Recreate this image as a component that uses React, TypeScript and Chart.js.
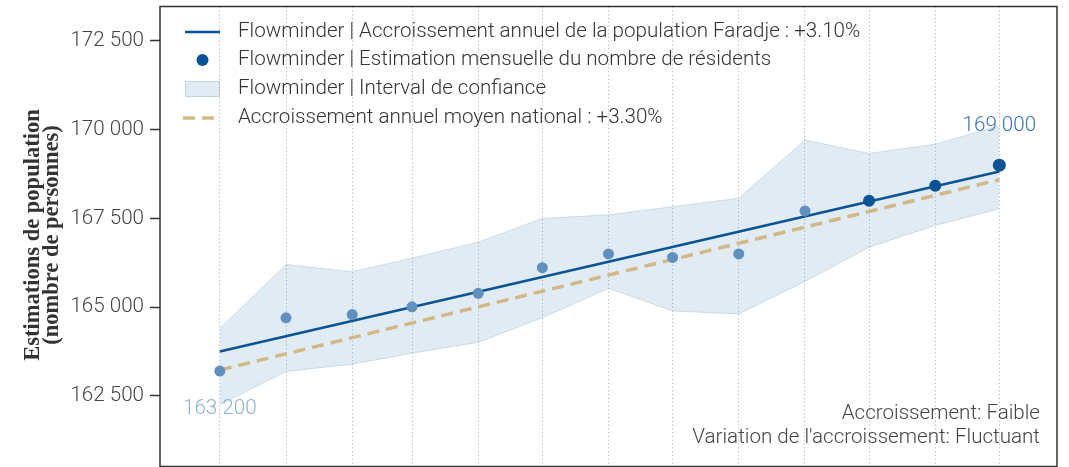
import React, { useEffect, useRef } from 'react';
import { Chart, registerables } from 'chart.js';

Chart.register(...registerables);

// ---- data ----
const months = [
  '2022-12-01', '2023-01-01', '2023-02-01', '2023-03-01', '2023-04-01', '2023-05-01', '2023-06-01',
  '2023-07-01', '2023-08-01', '2023-09-01', '2023-10-01', '2023-11-01', '2023-12-01',
];
const monthlyEstimates = [163200, 164700, 164790, 165010, 165390, 166110, 166500, 166400, 166500, 167710, 168000, 168420, 169000];
const ciUpper = [164400, 166200, 166000, 166380, 166830, 167500, 167600, 167830, 168070, 169710, 169330, 169590, 170110];
const ciLower = [162250, 163190, 163390, 163700, 164010, 164700, 165530, 164890, 164810, 165720, 166690, 167300, 167770];
const trendEnds = [163750, 168820];
const nationalEnds = [163230, 168590];
const yTicks = [162500, 165000, 167500, 170000, 172500];
const legendLabels = [
  'Flowminder | Accroissement annuel de la population Faradje : +3.10%',
  'Flowminder | Estimation mensuelle du nombre de résidents',
  'Flowminder | Interval de confiance',
  'Accroissement annuel moyen national : +3.30%',
];
const axisTitle = ['Estimations de population', '(nombre de personnes)'];
const notes = ['Accroissement: Faible', "Variation de l'accroissement: Fluctuant"];
const RECENT_COUNT = 3;

// ---- helpers ----
const DAY = 86400000;
const t0 = Date.parse(months[0]);
const xs = months.map((m) => Math.round((Date.parse(m) - t0) / DAY));
const fmt = (v: number) => {
  const s = Math.round(v).toString();
  return s.replace(/\B(?=(\d{3})+(?!\d))/g, ' ');
};

const DARK = '#0c5396';
const LIGHT = '#5f90be';
const TAN = '#d2b887';
const BAND = 'rgba(70,130,180,0.16)';
const BAND_EDGE = 'rgba(70,130,180,0.22)';
const FONT = 'Roboto';
const TEXT_PX = 20.6;
const CANVAS_H = 473;

const overlay = {
  id: 'overlay',
  afterDatasetsDraw(chart: any) {
    const { ctx, chartArea, scales } = chart;
    const x = scales.x;
    const y = scales.y;
    ctx.save();
    // data labels
    ctx.font = `300 ${TEXT_PX}px ${FONT}`;
    ctx.textAlign = 'center';
    ctx.textBaseline = 'middle';
    ctx.fillStyle = '#8db1d2';
    ctx.fillText(fmt(monthlyEstimates[0]), x.getPixelForValue(xs[0]), y.getPixelForValue(monthlyEstimates[0]) + 38);
    const li = monthlyEstimates.length - 1;
    ctx.fillStyle = '#3b74ae';
    ctx.fillText(fmt(monthlyEstimates[li]), x.getPixelForValue(xs[li]), y.getPixelForValue(monthlyEstimates[li]) - 39);

    // legend
    const lx0 = chartArea.left + 25;
    const lx1 = chartArea.left + 60;
    const rows = [32, 60, 89, 118];
    ctx.lineCap = 'butt';
    ctx.strokeStyle = DARK;
    ctx.lineWidth = 2.5;
    ctx.beginPath();
    ctx.moveTo(lx0, rows[0]);
    ctx.lineTo(lx1, rows[0]);
    ctx.stroke();
    ctx.fillStyle = DARK;
    ctx.beginPath();
    ctx.arc((lx0 + lx1) / 2, rows[1], 6, 0, Math.PI * 2);
    ctx.fill();
    ctx.fillStyle = BAND;
    ctx.fillRect(lx0, rows[2] - 8, lx1 - lx0, 16);
    ctx.strokeStyle = BAND_EDGE;
    ctx.lineWidth = 1;
    ctx.strokeRect(lx0 + 0.5, rows[2] - 7.5, lx1 - lx0 - 1, 15);
    ctx.strokeStyle = TAN;
    ctx.lineWidth = 3.5;
    ctx.setLineDash([12, 7]);
    ctx.beginPath();
    ctx.moveTo(lx0 - 2, rows[3]);
    ctx.lineTo(lx1, rows[3]);
    ctx.stroke();
    ctx.setLineDash([]);

    ctx.font = `300 ${TEXT_PX}px ${FONT}`;
    ctx.textAlign = 'left';
    ctx.fillStyle = '#333';
    legendLabels.forEach((l, i) => ctx.fillText(l, chartArea.left + 78, rows[i]));

    // notes
    ctx.textAlign = 'right';
    ctx.fillStyle = '#444';
    ctx.fillText(notes[0], chartArea.right - 17, 414);
    ctx.fillText(notes[1], chartArea.right - 17, 438);
    ctx.restore();
  },
  afterDraw(chart: any) {
    const { ctx, chartArea } = chart;
    ctx.save();
    ctx.strokeStyle = '#333';
    ctx.lineWidth = 1.5;
    ctx.strokeRect(chartArea.left, chartArea.top, chartArea.right - chartArea.left, chartArea.bottom - chartArea.top);
    // y-axis title
    ctx.translate(42.5, 235);
    ctx.rotate(-Math.PI / 2);
    ctx.font = `bold 22.5px "Liberation Serif", serif`;
    ctx.fillStyle = '#333';
    ctx.textAlign = 'center';
    ctx.textBaseline = 'middle';
    ctx.fillText(axisTitle[0], 0, -9.5);
    ctx.fillText(axisTitle[1], 0, 9.5);
    ctx.restore();
  },
};

export default function App() {
  const ref = useRef<HTMLCanvasElement>(null);
  useEffect(() => {
    if (!ref.current) return;
    const n = monthlyEstimates.length;
    const pointColors = monthlyEstimates.map((_, i) => (i >= n - RECENT_COUNT ? DARK : LIGHT));
    const pointRadius = monthlyEstimates.map((_, i) => (i === n - 1 ? 6.5 : i >= n - RECENT_COUNT ? 6 : 5.5));
    const chart = new Chart(ref.current, {
      type: 'line',
      data: {
        datasets: [
          {
            label: legendLabels[1],
            data: xs.map((x, i) => ({ x, y: monthlyEstimates[i] })),
            showLine: false,
            pointRadius,
            pointBackgroundColor: pointColors,
            pointBorderWidth: 0,
            borderColor: 'transparent',
            order: 0,
          },
          {
            label: legendLabels[0],
            data: [
              { x: xs[0], y: trendEnds[0] },
              { x: xs[xs.length - 1], y: trendEnds[1] },
            ],
            borderColor: DARK,
            borderWidth: 2.5,
            pointRadius: 0,
            order: 1,
          },
          {
            label: legendLabels[3],
            data: [
              { x: xs[0], y: nationalEnds[0] },
              { x: xs[xs.length - 1], y: nationalEnds[1] },
            ],
            borderColor: TAN,
            borderWidth: 3.5,
            borderDash: [12, 7],
            pointRadius: 0,
            order: 2,
          },
          {
            label: 'lower',
            data: xs.map((x, i) => ({ x, y: ciLower[i] })),
            borderColor: BAND_EDGE,
            borderWidth: 1,
            pointRadius: 0,
            fill: false,
            order: 4,
          },
          {
            label: legendLabels[2],
            data: xs.map((x, i) => ({ x, y: ciUpper[i] })),
            borderColor: BAND_EDGE,
            borderWidth: 1,
            pointRadius: 0,
            backgroundColor: BAND,
            fill: '-1',
            order: 3,
          },
        ],
      },
      options: {
        animation: false,
        responsive: false,
        devicePixelRatio: 1,
        layout: { padding: { top: 5, right: 12, bottom: 0, left: 0 } },
        plugins: { legend: { display: false }, tooltip: { enabled: false } },
        scales: {
          x: {
            type: 'linear',
            min: -28,
            max: xs[xs.length - 1] + 27,
            afterBuildTicks: (axis: any) => {
              axis.ticks = xs.map((v) => ({ value: v }));
            },
            afterFit: (axis: any) => {
              axis.height = 2;
              axis.paddingLeft = 0;
              axis.paddingRight = 0;
            },
            ticks: { display: false },
            grid: { color: '#b8b8b8', lineWidth: 1, drawTicks: false },
            border: { display: false, dash: [1.2, 2.6] },
          },
          y: {
            type: 'linear',
            min: 160510,
            max: 173470,
            afterBuildTicks: (axis: any) => {
              axis.ticks = yTicks.map((v) => ({ value: v }));
            },
            afterFit: (axis: any) => {
              axis.width = 160;
              axis.paddingTop = 0;
              axis.paddingBottom = 0;
            },
            ticks: {
              color: '#444',
              font: { family: FONT, size: TEXT_PX, weight: '300' },
              padding: 6,
              callback: (v: any) => fmt(Number(v)),
            },
            grid: { drawOnChartArea: false, drawTicks: true, tickLength: 10, tickColor: '#333', tickWidth: 1.5 },
            border: { display: false },
          },
        },
      },
      plugins: [overlay],
    });
    return () => chart.destroy();
  }, []);
  return (
    <div style={{ position: 'absolute', left: 0, top: 0, width: 1069, height: 467, overflow: 'hidden', background: '#fff' }}>
      <canvas ref={ref} width={1069} height={CANVAS_H} style={{ width: 1069, height: CANVAS_H, display: 'block' }} />
    </div>
  );
}
